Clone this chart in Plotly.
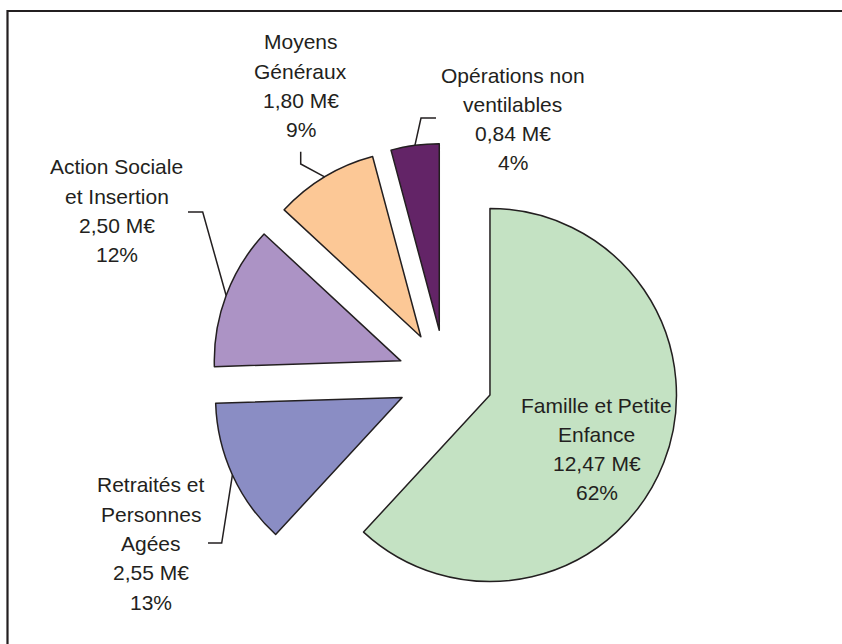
import math
import plotly.graph_objects as go

# ---- data ----
categories = ["Famille et Petite Enfance", "Retraités et Personnes Agées",
              "Action Sociale et Insertion", "Moyens Généraux",
              "Opérations non ventilables"]
name_lines = [["Famille et Petite", "Enfance"],
              ["Retraités et", "Personnes", "Agées"],
              ["Action Sociale", "et Insertion"],
              ["Moyens", "Généraux"],
              ["Opérations non", "ventilables"]]
values = [12.47, 2.55, 2.50, 1.80, 0.84]

# ---- style / layout ----
colors = ["#C4E2C3", "#8A8DC4", "#AC93C5", "#FCC896", "#632467"]
INK = "#231f20"
FONT = "Arial, 'Liberation Sans', sans-serif"
W, H = 842, 644
PULL = 0.256
CX, CY, R = 445.5, 377.6, 186.5          # pie centre / radius (px)
SIZE = 2 * R * (1 + PULL)

def px(x):
    return x / W

def py(y):
    return 1 - y / H

total = sum(values)
pcts = [round(v / total * 100) for v in values]
val_txt = [f"{v:.2f}".replace(".", ",") + " M€" for v in values]

label_cx = [596.7, 150.8, 116.7, 300.5, 512.5]
label_y0 = [405.0, 485.0, 166.7, 41.7, 75.0]
LINE_STEP = 29.3
# leader elbows and ends (px), None for the inside label
leader_pts = [None,
              [(221.7, 543), (208, 543)],
              [(202.7, 212), (188, 212)],
              [(300.7, 164), (300.7, 151.7)],
              [(421, 118), (436, 118)]]

fig = go.Figure(go.Pie(
    labels=categories, values=values, sort=False, direction="clockwise",
    rotation=0, pull=[PULL] * len(values),
    marker=dict(colors=colors, line=dict(color=INK, width=1.5)),
    textinfo="none", hoverinfo="none", showlegend=False,
    domain=dict(x=[px(CX - SIZE / 2), px(CX + SIZE / 2)],
                y=[py(CY + SIZE / 2), py(CY - SIZE / 2)]),
))

annotations = []
shapes = []
cum = 0.0
for i, v in enumerate(values):
    mid = (cum + v / 2) / total * 2 * math.pi
    cum += v
    lines = name_lines[i] + [val_txt[i], f"{pcts[i]}%"]
    for k, t in enumerate(lines):
        annotations.append(dict(
            x=px(label_cx[i]), y=py(label_y0[i] + k * LINE_STEP),
            xref="paper", yref="paper", text=t, showarrow=False,
            xanchor="center", yanchor="middle",
            font=dict(family=FONT, size=21, color=INK)))
    if leader_pts[i]:
        sx = CX + R * (1 + PULL) * math.sin(mid)
        sy = CY - R * (1 + PULL) * math.cos(mid)
        pts = [(sx, sy)] + leader_pts[i]
        path = "M " + " L ".join(f"{px(x):.5f},{py(y):.5f}" for x, y in pts)
        shapes.append(dict(type="path", path=path, xref="paper", yref="paper",
                           line=dict(color=INK, width=1.5)))

# frame (only top & left edges are inside the picture)
shapes.append(dict(type="rect", xref="paper", yref="paper",
                   x0=px(7.5), y0=py(11), x1=1.2, y1=-0.2,
                   line=dict(color=INK, width=2.2), fillcolor="rgba(0,0,0,0)"))

fig.update_layout(
    width=W, height=H, margin=dict(l=0, r=0, t=0, b=0),
    paper_bgcolor="white", plot_bgcolor="white",
    annotations=annotations, shapes=shapes,
)

fig.write_html("out.html",
               config={"displayModeBar": False},
               post_script="document.body.style.margin='0px';"
                           "document.body.style.overflow='hidden';")
